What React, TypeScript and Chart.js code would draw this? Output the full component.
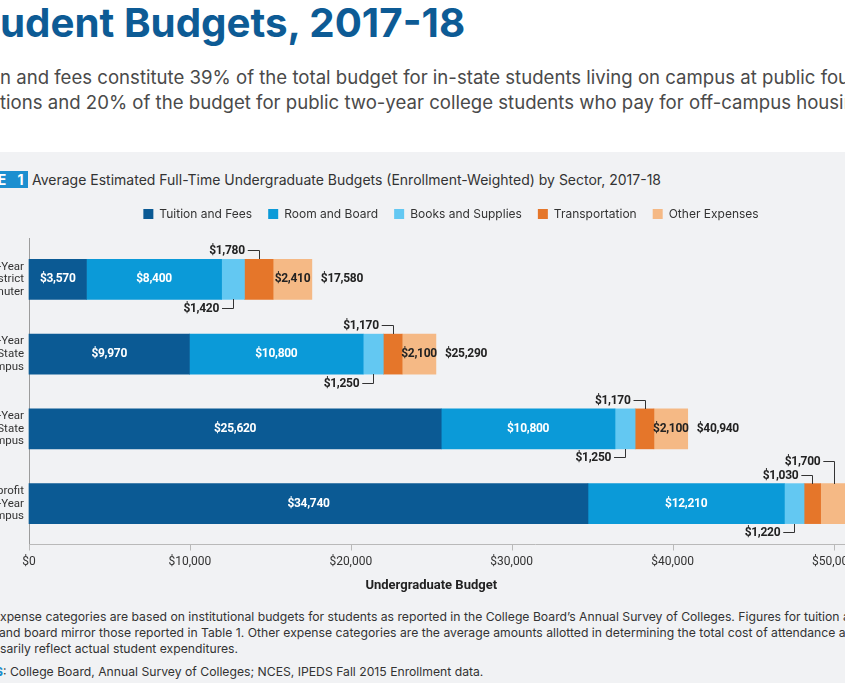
import React, { useEffect, useRef } from "react";
import { Chart, registerables } from "chart.js";

Chart.register(...registerables);

// ---------- data ----------
const categories: string[][] = [
  ["Public Two-Year", "In-District", "Commuter"],
  ["Public Four-Year", "In-State", "On-Campus"],
  ["Public Four-Year", "Out-of-State", "On-Campus"],
  ["Private Nonprofit", "Four-Year", "On-Campus"],
];
const seriesNames = [
  "Tuition and Fees",
  "Room and Board",
  "Books and Supplies",
  "Transportation",
  "Other Expenses",
];
const tuitionFees = [3570, 9970, 25620, 34740];
const roomBoard = [8400, 10800, 10800, 12210];
const booksSupplies = [1420, 1250, 1250, 1220];
const transportation = [1780, 1170, 1170, 1030];
const otherExpenses = [2410, 2100, 2100, 1700];
const totals = [17580, 25290, 40940, 50900];
const xTickValues = [0, 10000, 20000, 30000, 40000, 50000];

const seriesColors = ["#0b5a94", "#0b9ad8", "#63c8f2", "#e5762a", "#f5b985"];

const fmt = (v: number) => "$" + Number(v).toLocaleString("en-US");

// ---------- plugins ----------
const legendPlacement = {
  id: "legendPlacement",
  beforeInit(chart: any) {
    const orig = chart.legend.fit;
    chart.legend.fit = function fit() {
      orig.bind(chart.legend)();
      this.height += 12;
    };
  },
  afterLayout(chart: any) {
    const lg = chart.legend;
    if (!lg) return;
    const shift = chart.width / 2 - (lg.left + lg.right) / 2;
    lg.left += shift;
    lg.right += shift;
  },
};

const axisLines = {
  id: "axisLines",
  beforeDatasetsDraw(chart: any) {
    const { ctx, chartArea, scales } = chart;
    const axisY = Math.round(chartArea.bottom + 3) + 0.5;
    ctx.save();
    ctx.lineWidth = 1;
    ctx.strokeStyle = "#9c9c9c";
    const lx = Math.round(chartArea.left) + 0.5;
    ctx.beginPath();
    ctx.moveTo(lx, chartArea.top - 4);
    ctx.lineTo(lx, axisY);
    ctx.stroke();
    ctx.strokeStyle = "#b9b9b9";
    ctx.beginPath();
    ctx.moveTo(chartArea.left, axisY);
    ctx.lineTo(chart.width, axisY);
    ctx.stroke();
    scales.x.ticks.forEach((t: any) => {
      const px = Math.round(scales.x.getPixelForValue(t.value)) + 0.5;
      ctx.beginPath();
      ctx.moveTo(px, axisY);
      ctx.lineTo(px, axisY + 6);
      ctx.stroke();
    });
    ctx.restore();
  },
};

const segmentLabels = {
  id: "segmentLabels",
  afterDatasetsDraw(chart: any) {
    const { ctx } = chart;
    ctx.save();
    ctx.font = "bold 12px Roboto";
    (ctx as any).letterSpacing = "-0.3px";
    ctx.textBaseline = "middle";
    ctx.lineWidth = 1;
    ctx.strokeStyle = "#333";
    const dark = "#222";

    const callout = (text: string, cx: number, edgeY: number, dir: number, dist: number) => {
      const ty = Math.round(edgeY + dir * dist) + 0.5;
      const vx = Math.round(cx) + 0.5;
      ctx.fillStyle = dark;
      ctx.textAlign = "right";
      ctx.fillText(text, cx - 14, ty);
      ctx.beginPath();
      ctx.moveTo(cx - 11, ty);
      ctx.lineTo(vx, ty);
      ctx.lineTo(vx, Math.round(edgeY));
      ctx.stroke();
    };

    const n = chart.data.labels.length;
    for (let i = 0; i < n; i++) {
      let barEnd = 0;
      let rowY = 0;
      chart.data.datasets.forEach((ds: any, d: number) => {
        const el = chart.getDatasetMeta(d).data[i];
        const { x, y, base, height } = el.getProps(["x", "y", "base", "height"], true);
        const left = Math.min(x, base);
        const right = Math.max(x, base);
        const cx = (left + right) / 2;
        const top = y - height / 2;
        const bottom = y + height / 2;
        const text = fmt(ds.data[i]);
        barEnd = Math.max(barEnd, right);
        rowY = y;
        if (d <= 1) {
          ctx.fillStyle = "#ffffff";
          ctx.textAlign = "center";
          ctx.fillText(text, cx, y);
        } else if (d === 2) {
          callout(text, cx, bottom, 1, 8.5);
        } else if (d === 3) {
          callout(text, cx, top, -1, 9);
        } else {
          const w = ctx.measureText(text).width;
          if (right - left < w * 0.85) {
            callout(text, cx, top, -1, 23);
          } else {
            ctx.fillStyle = dark;
            ctx.textAlign = "center";
            ctx.fillText(text, cx, y);
          }
        }
      });
      ctx.fillStyle = dark;
      ctx.textAlign = "left";
      ctx.fillText(fmt(totals[i]), barEnd + 9, rowY);
    }
    ctx.restore();
  },
};

// ---------- chart ----------
function BudgetChart() {
  const ref = useRef<HTMLCanvasElement | null>(null);
  useEffect(() => {
    if (!ref.current) return;
    Chart.defaults.font.family = "Roboto";
    const seriesData = [tuitionFees, roomBoard, booksSupplies, transportation, otherExpenses];
    const chart = new Chart(ref.current, {
      type: "bar",
      data: {
        labels: categories,
        datasets: seriesNames.map((name, k) => ({
          label: name,
          data: seriesData[k],
          backgroundColor: seriesColors[k],
          borderWidth: 0,
          barThickness: 40,
          clip: false as any,
        })),
      },
      options: {
        indexAxis: "y",
        responsive: false,
        animation: false,
        devicePixelRatio: 1,
        layout: { padding: { left: 0, right: 208.5, top: 0, bottom: 0 } },
        plugins: {
          tooltip: { enabled: false },
          legend: {
            position: "top",
            labels: {
              boxWidth: 10,
              boxHeight: 10,
              padding: 16,
              color: "#333",
              font: { family: "Inter", size: 12 },
            },
          },
        },
        scales: {
          x: {
            stacked: true,
            min: 0,
            max: 50000,
            afterBuildTicks: (s: any) => {
              s.ticks = xTickValues.map((v) => ({ value: v }));
            },
            ticks: {
              callback: (v: any) => fmt(v),
              color: "#333",
              font: { size: 12 },
              padding: 14,
              autoSkip: false,
              maxRotation: 0,
            },
            grid: { display: false, drawTicks: false },
            border: { display: false },
            title: {
              display: true,
              text: "Undergraduate Budget",
              color: "#222",
              font: { size: 13, weight: "bold" },
              padding: { top: 0, bottom: 7 },
            },
            afterFit: (s: any) => {
              s.height = 60;
            },
          },
          y: {
            stacked: true,
            ticks: {
              color: "#333",
              font: { size: 11.5, lineHeight: 1.1 },
              padding: 5,
            },
            grid: { display: false, drawTicks: false },
            border: { display: false },
            afterFit: (s: any) => {
              s.width = 169;
            },
          },
        },
      },
      plugins: [legendPlacement, axisLines, segmentLabels],
    } as any);
    return () => chart.destroy();
  }, []);
  return (
    <canvas
      ref={ref}
      width={1182}
      height={409}
      style={{ position: "absolute", left: -140, top: 192, width: 1182, height: 409 }}
    />
  );
}

// text whose beginning is cut off by the left page edge
function CutLine(props: { hidden: React.ReactNode; children: React.ReactNode; style: React.CSSProperties }) {
  return (
    <div style={{ position: "absolute", whiteSpace: "nowrap", ...props.style }}>
      <span style={{ position: "absolute", right: "100%", top: 0, whiteSpace: "nowrap" }}>{props.hidden}</span>
      {props.children}
    </div>
  );
}

export default function App() {
  const blue = "#1b8fd0";
  const noteStyle: React.CSSProperties = { fontSize: 12.2, lineHeight: "16px", color: "#333" };
  return (
    <div
      style={{
        position: "absolute",
        left: 0,
        top: 0,
        width: 845,
        height: 683,
        overflow: "hidden",
        background: "#ffffff",
        fontFamily: "Inter, 'Noto Sans', sans-serif",
      }}
    >
      <div style={{ position: "absolute", left: 0, top: 152, width: 845, height: 531, background: "#f1f2f4" }} />

      <CutLine
        hidden="St"
        style={{ left: 0, top: 3, fontSize: 40.3, lineHeight: "40px", fontWeight: 700, color: "#0d5b95" }}
      >
        udent Budgets, 2017-18
      </CutLine>

      <CutLine hidden="Tuitio" style={{ left: 0, top: 65, fontSize: 18.6, lineHeight: "25px", color: "#4a4a4a" }}>
        n and fees constitute 39% of the total budget for in-state students living on campus at public four-year
      </CutLine>
      <CutLine hidden="institu" style={{ left: 0, top: 90, fontSize: 18.6, lineHeight: "25px", color: "#4a4a4a" }}>
        tions and 20% of the budget for public two-year college students who pay for off-campus housing.
      </CutLine>

      <div
        style={{
          position: "absolute",
          left: -80,
          top: 171,
          width: 108,
          height: 17,
          background: blue,
          color: "#fff",
          fontWeight: 700,
          fontSize: 14,
          lineHeight: "17px",
          textAlign: "right",
          boxSizing: "border-box",
          paddingRight: 3,
          letterSpacing: 1.5,
          wordSpacing: 5,
          whiteSpace: "nowrap",
        }}
      >
        FIGURE 1
      </div>
      <div
        style={{
          position: "absolute",
          left: 32,
          top: 171,
          fontSize: 14,
          lineHeight: "18px",
          color: "#333",
          whiteSpace: "nowrap",
        }}
      >
        Average Estimated Full-Time Undergraduate Budgets (Enrollment-Weighted) by Sector, 2017-18
      </div>

      <BudgetChart />

      <CutLine
        hidden={
          <>
            <b style={{ color: blue }}>NOTE:</b> E
          </>
        }
        style={{ left: 0, top: 609, ...noteStyle }}
      >
        xpense categories are based on institutional budgets for students as reported in the College Board’s Annual
        Survey of Colleges. Figures for tuition and fees and room
      </CutLine>
      <CutLine hidden="room" style={{ left: -1, top: 625, ...noteStyle }}>
        {" "}and board mirror those reported in Table 1. Other expense categories are the average amounts allotted in
        determining the total cost of attendance and do not
      </CutLine>
      <CutLine hidden="neces" style={{ left: 0, top: 641, ...noteStyle }}>
        sarily reflect actual student expenditures.
      </CutLine>
      <CutLine hidden={<b style={{ color: blue }}>SOURCE</b>} style={{ left: -5, top: 664, ...noteStyle }}>
        <b style={{ color: blue }}>S</b>: College Board, Annual Survey of Colleges; NCES, IPEDS Fall 2015 Enrollment data.
      </CutLine>
    </div>
  );
}
